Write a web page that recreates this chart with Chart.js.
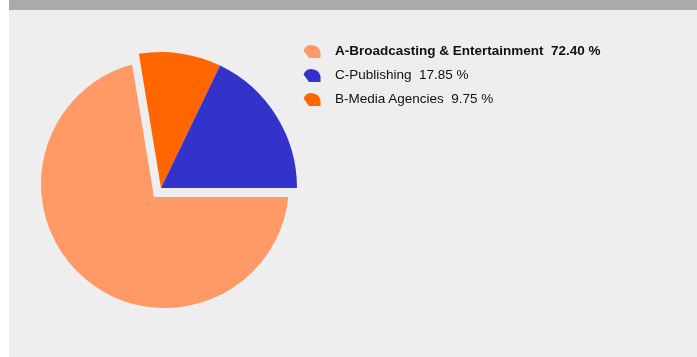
<!DOCTYPE html>
<html>
<head>
<meta charset="utf-8">
<script src="https://cdn.jsdelivr.net/npm/chart.js@4/dist/chart.umd.min.js"></script>
<style>
  html, body { margin: 0; padding: 0; width: 697px; height: 357px; overflow: hidden; background: #fff; }
  #panel { position: absolute; left: 9px; top: 0; width: 688px; height: 357px; background: #eeeeee; }
  #band { position: absolute; left: 9px; top: 0; width: 688px; height: 10px; background: #aaaaaa; }
  canvas { position: absolute; }
  #bigSlice { left: 25px; top: 44px; }
  #smallSlices { left: 21px; top: 48px; }
  #legend { position: absolute; left: 303px; top: 38px; font-family: "Liberation Sans", Arial, sans-serif; font-size: 13.5px; color: #111; }
  .row { height: 24px; display: flex; align-items: center; white-space: pre; }
  .row svg { width: 18px; height: 14px; margin-right: 14px; position: relative; top: 1px; }
  .row.main { font-weight: bold; }
</style>
</head>
<body>
<div id="panel"></div>
<div id="band"></div>
<canvas id="bigSlice" width="280" height="280"></canvas>
<canvas id="smallSlices" width="280" height="280"></canvas>
<div id="legend"></div>

<script>
// legend order (as shown in the picture)
const categories = ['A-Broadcasting & Entertainment', 'C-Publishing', 'B-Media Agencies'];
const shares = [72.40, 17.85, 9.75];
const colors = ['#FF9966', '#3333CC', '#FF6600'];

const total = shares.reduce((a, b) => a + b, 0);

// chart.js draws clockwise, the picture goes counter-clockwise -> reverse
const revLabels = categories.slice().reverse();
const revValues = shares.slice().reverse();
const revColors = colors.slice().reverse();

// smaller slices start at 3 o'clock going up
const startDeg = -360 * (shares[1] + shares[2]) / total;
const rotation = startDeg + 90;

const baseOptions = {
    responsive: false,
    animation: false,
    rotation: rotation,
    plugins: { legend: { display: false }, tooltip: { enabled: false } }
};

// the pulled out slice (thick background-coloured border makes the gap)
new Chart(document.getElementById('bigSlice'), {
    type: 'pie',
    data: {
        labels: revLabels,
        datasets: [{
            data: revValues,
            backgroundColor: revColors.map((c, i) => i === revColors.length - 1 ? c : 'rgba(0,0,0,0)'),
            borderColor: '#eeeeee',
            borderWidth: revValues.map((v, i) => i === revValues.length - 1 ? 26 : 0),
            borderAlign: 'center',
            borderJoinStyle: 'miter'
        }]
    },
    options: Object.assign({ radius: 137 }, baseOptions)
});

// the rest of the pie
new Chart(document.getElementById('smallSlices'), {
    type: 'pie',
    data: {
        labels: revLabels,
        datasets: [{
            data: revValues,
            backgroundColor: revColors.map((c, i) => i === revColors.length - 1 ? 'rgba(0,0,0,0)' : c),
            borderWidth: 0
        }]
    },
    options: Object.assign({ radius: 136 }, baseOptions)
});

// legend
const legendEl = document.getElementById('legend');
categories.forEach((name, i) => {
    const row = document.createElement('div');
    row.className = 'row' + (i === 0 ? ' main' : '');
    row.innerHTML = '<svg viewBox="0 0 18 14"><path d="M6 14 L0.5 6.5 A9 9 0 0 1 17.5 8 L17.5 14 Z" fill="' + colors[i] + '"/></svg>';
    const txt = document.createElement('span');
    txt.textContent = name + '  ' + shares[i].toFixed(2) + ' %';
    row.appendChild(txt);
    legendEl.appendChild(row);
});
</script>
</body>
</html>
